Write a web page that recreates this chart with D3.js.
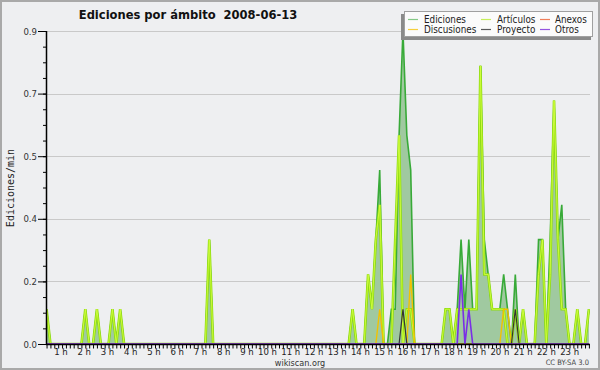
<!DOCTYPE html>
<html>
<head>
<meta charset="utf-8">
<script src="https://cdn.jsdelivr.net/npm/d3@7"></script>
<style>
body { margin: 0; background: #fff; }
text { font-family: "DejaVu Sans Condensed", "DejaVu Sans", sans-serif; font-stretch: condensed; }
</style>
</head>
<body>
<div id="chart"></div>
<script>
// 10-minute bins, edits per minute
var hours = [1,2,3,4,5,6,7,8,9,10,11,12,13,14,15,16,17,18,19,20,21,22,23];
var yTicks = [0, 0.18, 0.36, 0.54, 0.72, 0.9];

var ediciones = [
	0.1,0,0,0,0,0, 0,0,0,0,0.1,0,  0,0.1,0,0,0,0.1, 0,0.1,0,0,0,0,
	0,0,0,0,0,0, 0,0,0,0,0,0,      0,0,0,0,0,0, 0.3,0,0,0,0,0,
	0,0,0,0,0,0, 0,0,0,0,0,0,      0,0,0,0,0,0, 0,0,0,0,0,0,
	0,0,0,0,0,0, 0,0.1,0,0,0,0.2,  0.1,0.3,0.5,0,0,0.1, 0.1,0.6,0.9,0.6,0.5,0,
	0,0,0,0,0,0, 0,0.1,0.1,0,0.1,0.3,  0.1,0.3,0.1,0.1,0.8,0.3, 0.2,0.1,0.1,0.1,0.2,0.1,
	0,0.2,0,0.1,0,0, 0,0.3,0.3,0,0.3,0.7,  0.3,0.4,0.1,0,0,0.1, 0,0,0.1
];
var articulos = [
	0.1,0,0,0,0,0, 0,0,0,0,0.1,0,  0,0.1,0,0,0,0.1, 0,0.1,0,0,0,0,
	0,0,0,0,0,0, 0,0,0,0,0,0,      0,0,0,0,0,0, 0.3,0,0,0,0,0,
	0,0,0,0,0,0, 0,0,0,0,0,0,      0,0,0,0,0,0, 0,0,0,0,0,0,
	0,0,0,0,0,0, 0,0.1,0,0,0,0.2,  0.1,0.3,0.4,0,0,0, 0.3,0.6,0,0.1,0.1,0,
	0,0,0,0,0,0, 0,0.1,0.1,0,0.1,0.1,  0.1,0.1,0.1,0.1,0.8,0.2, 0.2,0.1,0.1,0.1,0.1,0,
	0,0.1,0,0.1,0,0, 0,0.2,0.3,0,0.2,0.7,  0.3,0.1,0.1,0,0,0.1, 0,0,0.1
];
var anexos = [
	0,0,0,0,0,0, 0,0,0,0,0,0,  0,0,0,0,0,0, 0,0,0,0,0,0,
	0,0,0,0,0,0, 0,0,0,0,0,0,  0,0,0,0,0,0, 0,0,0,0,0,0,
	0,0,0,0,0,0, 0,0,0,0,0,0,  0,0,0,0,0,0, 0,0,0,0,0,0,
	0,0,0,0,0,0, 0,0,0,0,0,0,  0,0,0,0,0,0, 0,0,0,0,0,0,
	0,0,0,0,0,0, 0,0,0,0,0,0,  0,0,0,0,0,0, 0,0,0,0,0,0,
	0,0,0,0,0,0, 0,0,0,0,0,0,  0,0,0,0,0,0, 0,0,0
];
var discusiones = [
	0,0,0,0,0,0, 0,0,0,0,0,0,  0,0,0,0,0,0, 0,0,0,0,0,0,
	0,0,0,0,0,0, 0,0,0,0,0,0,  0,0,0,0,0,0, 0,0,0,0,0,0,
	0,0,0,0,0,0, 0,0,0,0,0,0,  0,0,0,0,0,0, 0,0,0,0,0,0,
	0,0,0,0,0,0, 0,0,0,0,0,0,  0,0,0.1,0,0,0, 0,0,0,0,0.2,0,
	0,0,0,0,0,0, 0,0,0,0,0,0,  0,0,0,0,0,0, 0,0,0,0,0.1,0.1,
	0,0,0,0,0,0, 0,0,0,0,0,0,  0,0,0,0,0,0, 0,0,0
];
var proyecto = [
	0,0,0,0,0,0, 0,0,0,0,0,0,  0,0,0,0,0,0, 0,0,0,0,0,0,
	0,0,0,0,0,0, 0,0,0,0,0,0,  0,0,0,0,0,0, 0,0,0,0,0,0,
	0,0,0,0,0,0, 0,0,0,0,0,0,  0,0,0,0,0,0, 0,0,0,0,0,0,
	0,0,0,0,0,0, 0,0,0,0,0,0,  0,0,0,0,0,0, 0,0,0.1,0,0,0,
	0,0,0,0,0,0, 0,0,0,0,0,0,  0,0,0,0,0,0, 0,0,0,0,0,0,
	0,0.1,0,0,0,0, 0,0,0,0,0,0,  0,0,0,0,0,0, 0,0,0
];
var otros = [
	0,0,0,0,0,0, 0,0,0,0,0,0,  0,0,0,0,0,0, 0,0,0,0,0,0,
	0,0,0,0,0,0, 0,0,0,0,0,0,  0,0,0,0,0,0, 0,0,0,0,0,0,
	0,0,0,0,0,0, 0,0,0,0,0,0,  0,0,0,0,0,0, 0,0,0,0,0,0,
	0,0,0,0,0,0, 0,0,0,0,0,0,  0,0,0,0,0,0, 0,0,0,0,0,0,
	0,0,0,0,0,0, 0,0,0,0,0,0.2,  0,0.1,0,0,0,0, 0,0,0,0,0,0,
	0,0,0,0,0,0, 0,0,0,0,0,0,  0,0,0,0,0,0, 0,0,0
];

var legendNames = ["Ediciones", "Artículos", "Anexos", "Discusiones", "Proyecto", "Otros"];
var legendColors = ["#86c986", "#c6ee5a", "#f07f5a", "#f6cf3c", "#5a5a5a", "#9455e0"];

var width = 600, height = 370;
var plotL = 46, plotR = 590, plotT = 31, plotB = 344;

var svg = d3.select("#chart").append("svg").attr("width", width).attr("height", height);

svg.append("rect").attr("x", 1).attr("y", 1).attr("width", width - 2).attr("height", height - 2)
	.attr("fill", "#eeeff1").attr("stroke", "#a9a9a9").attr("stroke-width", 2);

var x = d3.scaleLinear().domain([0, 140]).range([46.56, 588.9]);
var y = d3.scaleLinear().domain([0, 0.9]).range([plotB, plotT]);

// grid
svg.append("g").selectAll("line").data(yTicks.slice(1)).join("line")
	.attr("x1", plotL).attr("x2", plotR)
	.attr("y1", function(d){ return Math.round(y(d)) + 0.5; })
	.attr("y2", function(d){ return Math.round(y(d)) + 0.5; })
	.attr("stroke", "#c9c9c9");

svg.append("clipPath").attr("id", "plot").append("rect")
	.attr("x", plotL).attr("y", plotT - 2).attr("width", plotR - plotL).attr("height", plotB - plotT + 2);

var plot = svg.append("g").attr("clip-path", "url(#plot)");

var area = d3.area()
	.x(function(d, i){ return x(i); })
	.y0(y(0))
	.y1(function(d){ return y(d); });

var line = d3.line()
	.x(function(d, i){ return x(i); })
	.y(function(d){ return y(d); });

plot.append("path").datum(ediciones).attr("d", area).attr("fill", "#a0c9a0");
plot.append("path").datum(ediciones).attr("d", line).attr("fill", "none")
	.attr("stroke", "#38aa38").attr("stroke-width", 1.6);
plot.append("path").datum(articulos).attr("d", line).attr("fill", "none")
	.attr("stroke", "#90dc12").attr("stroke-width", 2.6);
plot.append("path").datum(articulos).attr("d", line).attr("fill", "none")
	.attr("stroke", "#d4ff40").attr("stroke-width", 0.9);
plot.append("path").datum(anexos).attr("d", line).attr("fill", "none")
	.attr("stroke", "#f07f40").attr("stroke-width", 1.2);
plot.append("path").datum(discusiones).attr("d", line).attr("fill", "none")
	.attr("stroke", "#f2c200").attr("stroke-width", 1.4);
plot.append("path").datum(proyecto).attr("d", line).attr("fill", "none")
	.attr("stroke", "#333333").attr("stroke-width", 1.2);
plot.append("path").datum(otros).attr("d", line).attr("fill", "none")
	.attr("stroke", "#7a2ee6").attr("stroke-width", 1.6);

// y axis
var yAxis = svg.append("g").attr("transform", "translate(" + plotL + ",0)")
	.call(d3.axisLeft(y).tickValues(yTicks).tickSize(8).tickPadding(1).tickFormat(d3.format(".1f")));
yAxis.select(".domain").remove();
yAxis.selectAll("text").attr("font-size", 9.5).attr("fill", "#333");
var yMinor = svg.append("g").attr("transform", "translate(" + plotL + ",0)")
	.call(d3.axisLeft(y).tickValues(d3.range(0, 0.9001, 0.045)).tickSize(3).tickFormat(""));
yMinor.select(".domain").remove();
svg.append("line").attr("x1", plotL + 0.5).attr("x2", plotL + 0.5).attr("y1", plotT).attr("y2", plotB + 1)
	.attr("stroke", "#000").attr("stroke-width", 1.5);

// x axis
var xAxis = svg.append("g").attr("transform", "translate(0," + (plotB + 0.5) + ")")
	.call(d3.axisBottom(x).tickValues(d3.range(0, 141)).tickSize(4).tickFormat(""));
xAxis.select(".domain").remove();
svg.append("line").attr("x1", plotL).attr("x2", plotR).attr("y1", plotB + 0.5).attr("y2", plotB + 0.5)
	.attr("stroke", "#000").attr("stroke-width", 1.5);

svg.append("g").selectAll("text").data(hours).join("text")
	.attr("x", function(d){ return x(d * 6) - 2; })
	.attr("y", 355)
	.attr("text-anchor", "end")
	.attr("font-size", 9.5)
	.attr("fill", "#222")
	.text(function(d){ return d + " h"; });

// titles
svg.append("text").attr("x", 188).attr("y", 19).attr("text-anchor", "middle")
	.attr("font-size", 12.8).attr("font-weight", "bold").attr("fill", "#111")
	.style("white-space", "pre")
	.text("Ediciones por ámbito  2008-06-13");

svg.append("text").attr("transform", "translate(14,188) rotate(-90)")
	.attr("text-anchor", "middle").attr("font-size", 10)
	.style("font-family", "'DejaVu Sans Mono', monospace")
	.attr("fill", "#222")
	.text("Ediciones/min");

svg.append("text").attr("x", 300).attr("y", 366).attr("text-anchor", "middle")
	.attr("font-size", 9).attr("fill", "#333").text("wikiscan.org");

svg.append("text").attr("x", 589).attr("y", 365).attr("text-anchor", "end")
	.attr("font-size", 7.5).attr("fill", "#444").text("CC BY-SA 3.0");

// legend
var leg = svg.append("g");
leg.append("rect").attr("x", 401).attr("y", 14).attr("width", 190).attr("height", 26).attr("fill", "#8a8a8a");
leg.append("rect").attr("x", 404.5).attr("y", 11.5).attr("width", 188).attr("height", 25)
	.attr("fill", "#fbfbfb").attr("stroke", "#a0a0a0");

var colSwatch = [408, 481, 540];
var colText = [424, 497, 555];
var rowY = [19, 29];

var items = leg.selectAll("g.item").data(legendNames).join("g").attr("class", "item");
items.append("line")
	.attr("x1", function(d, i){ return colSwatch[i % 3]; })
	.attr("x2", function(d, i){ return colSwatch[i % 3] + 10; })
	.attr("y1", function(d, i){ return rowY[Math.floor(i / 3)] + 0.5; })
	.attr("y2", function(d, i){ return rowY[Math.floor(i / 3)] + 0.5; })
	.attr("stroke", function(d, i){ return legendColors[i]; })
	.attr("stroke-width", 1.2);
items.append("text")
	.attr("x", function(d, i){ return colText[i % 3]; })
	.attr("y", function(d, i){ return rowY[Math.floor(i / 3)] + 4; })
	.attr("font-size", 9.8)
	.attr("fill", "#222")
	.text(function(d){ return d; });
</script>
</body>
</html>
